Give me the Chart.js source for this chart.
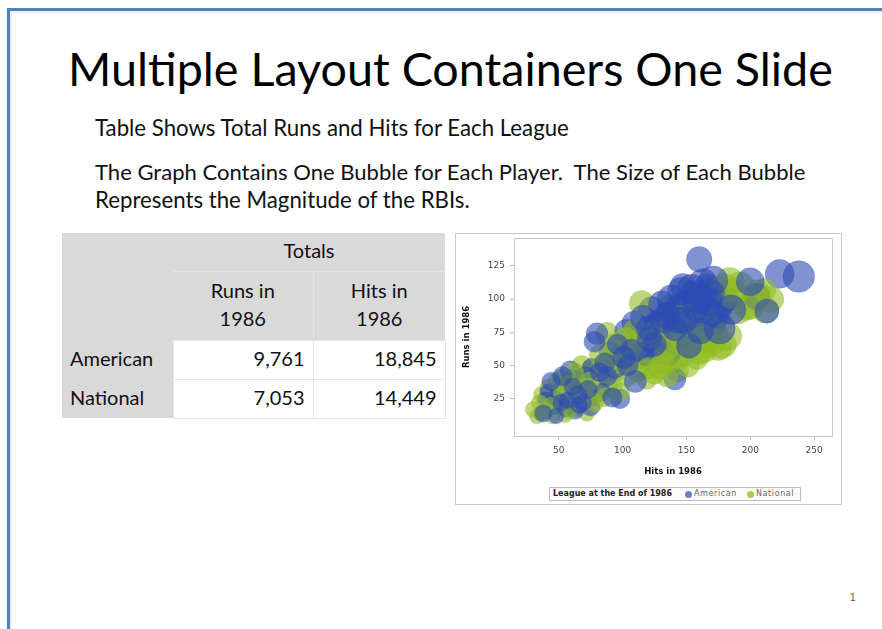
<!DOCTYPE html>
<html>
<head>
<meta charset="utf-8">
<script src="https://cdn.jsdelivr.net/npm/chart.js@4/dist/chart.umd.min.js"></script>
<style>
  html, body { margin: 0; padding: 0; background: #fff; }
  body { width: 882px; height: 629px; position: relative; overflow: hidden; font-family: Lato, "Open Sans", sans-serif; color: #111; }
  #topbar { position: absolute; left: 7px; top: 8px; right: 0; height: 3px; background: #4f81bd; }
  #leftbar { position: absolute; left: 7px; top: 8px; bottom: 0; width: 3px; background: #4f81bd; }
  #topshade { position: absolute; left: 10px; top: 11px; right: 0; height: 2px; background: #eceef1; }
  #leftshade { position: absolute; left: 10px; top: 11px; bottom: 0; width: 2px; background: #eceef1; }
  .fit { position: absolute; white-space: pre; line-height: 1; }
  #title { top: 45px; left: 68px; font-size: 44px; color: #000; }
  #l1 { top: 117px; left: 95px; font-size: 20px; }
  #l2 { top: 161px; left: 95px; font-size: 20px; }
  #l3 { top: 189px; left: 95px; font-size: 20px; }
  #tbl { position: absolute; left: 62px; top: 233px; border-collapse: collapse; font-size: 20px; }
  #tbl td { padding: 0 8px 4px 8px; box-sizing: border-box; line-height: 28px; }
  .g { background: #d9d9d9; }
  .w { background: #fff; border: 1px solid #e6e6e6; text-align: right; }
  #panel { position: absolute; left: 455px; top: 233px; width: 385px; height: 270px; border: 1px solid #c9c9c9; }
  #chartbox { position: absolute; left: 0; top: 0; width: 385px; height: 270px; }
  #legend { position: absolute; left: 93px; top: 253px; width: 250px; height: 12px; border: 1px solid #bdbdbd; background: #fbfbfb;
            font-family: "DejaVu Sans", sans-serif; font-size: 8px; line-height: 12px; color: #666; white-space: nowrap; }
  #legend b { color: #222; position: absolute; left: 3px; }
  #legend .dot { position: absolute; top: 3px; width: 7px; height: 7px; border-radius: 50%; }
  #legend .lab { position: absolute; letter-spacing: 0.6px; }
  #pnum { position: absolute; left: 850px; top: 592px; font-size: 10px; color: #555; font-family: "Liberation Sans", sans-serif; }
</style>
</head>
<body>
<div id="topbar"></div><div id="leftbar"></div><div id="topshade"></div><div id="leftshade"></div>
<div id="title" class="fit" data-w="765">Multiple Layout Containers One Slide</div>
<div id="l1" class="fit" data-w="474">Table Shows Total Runs and Hits for Each League</div>
<div id="l2" class="fit" data-w="711">The Graph Contains One Bubble for Each Player.  The Size of Each Bubble</div>
<div id="l3" class="fit" data-w="375">Represents the Magnitude of the RBIs.</div>

<table id="tbl">
  <tr style="height:38px">
    <td class="g" rowspan="2" style="width:111px"></td>
    <td class="g" colspan="2" style="text-align:center; border-bottom:1px solid #e4e4e4;">Totals</td>
  </tr>
  <tr style="height:69px">
    <td class="g" style="width:140px; text-align:center; border-right:1px solid #e4e4e4;">Runs in<br>1986</td>
    <td class="g" style="width:132px; text-align:center;">Hits in<br>1986</td>
  </tr>
  <tr style="height:39px">
    <td class="g" id="r0"></td><td class="w" id="r0c0"></td><td class="w" id="r0c1"></td>
  </tr>
  <tr style="height:39px">
    <td class="g" id="r1"></td><td class="w" id="r1c0"></td><td class="w" id="r1c1"></td>
  </tr>
</table>

<div id="panel">
  <div id="chartbox"><canvas id="c"></canvas></div>
  <div id="legend">
    <b>League at the End of 1986</b>
    <span class="dot" style="left:135px; background:rgba(70,95,185,0.8)"></span><span class="lab" style="left:144px">American</span>
    <span class="dot" style="left:197px; background:rgba(150,190,45,0.8)"></span><span class="lab" style="left:206px">National</span>
  </div>
</div>
<div id="pnum">1</div>

<script>
// ---- Table data ----
const leagues = ["American", "National"];
const totalRuns = [9761, 7053];
const totalHits = [18845, 14449];

// ---- Bubble data (Hits, Runs, RBI per player) ----
const americanHits = [38,40,44,46,48,50,53,55,57,59,61,63,65,67,69,71,73,75,
  78,80,82,84,86,90,92,94,96,98,101,103,107,109,110,112,116,118,120,
  123,125,127,131,133,135,136,138,141,141,143,146,147,148,151,152,154,155,157,159,160,161,163,165,166,168,170,171,175,176,179,200,205,213,223,238,
  42,52,60,66,76,88,95,104,113,121,128,132,139,144,150,158,162,167,172,185];
const americanRuns = [14,24,38,20,12,30,42,18,24,46,34,16,28,38,22,42,32,19,
  68,74,45,30,52,60,26,48,66,25,56,76,62,82,38,70,86,58,78,
  92,66,82,96,72,88,58,100,40,78,92,106,110,84,96,65,108,105,88,100,130,76,112,92,110,104,82,114,96,78,100,113,102,91,119,117,
  30,22,40,20,48,42,56,50,62,70,60,84,70,84,74,94,84,98,88,92];
const americanRBI = [22,18,30,25,10,28,34,20,15,40,22,18,30,26,20,36,28,30,
  45,50,33,25,40,48,35,44,42,37,55,60,46,65,52,58,72,50,64,
  80,62,70,85,60,76,58,90,52,70,95,88,70,80,100,72,92,60,84,105,74,78,96,88,66,102,90,98,106,110,94,90,80,65,96,113,
  20,18,32,14,38,36,50,45,56,66,58,74,72,78,84,90,86,92,100,100];

const nationalHits = [30,33,35,37,40,42,45,47,49,51,53,55,57,60,62,64,66,68,70,72,74,76,78,80,
  82,84,86,88,90,92,94,96,98,100,102,104,106,108,110,112,115,117,119,121,123,
  125,126,127,129,131,132,133,135,137,137,140,141,143,145,147,149,150,151,153,155,156,158,160,161,164,166,167,170,172,175,178,180,184,186,190,192,197,200,205,211,212,216,
  36,44,52,58,63,71,77,85,89,97,103,109,114,120,128,134,142,148,154,163,168,182];
const nationalRuns = [17,12,22,28,16,33,12,25,38,19,30,13,36,24,45,18,32,50,26,14,38,48,22,30,
  58,42,26,74,54,34,66,46,30,58,70,42,62,52,76,46,97,66,40,56,72,
  44,75,80,48,62,52,84,42,95,54,62,70,46,79,58,88,93,50,68,66,90,56,60,72,62,90,100,68,74,64,66,108,113,104,92,110,94,95,104,107,92,100,
  14,20,40,16,30,34,26,50,36,52,56,68,56,48,66,62,54,68,80,70,78,72];
const nationalRBI = [12,8,14,20,10,24,10,18,30,16,26,12,28,20,36,22,30,38,24,10,34,40,26,32,
  44,38,30,56,46,36,52,44,34,50,60,42,55,48,64,46,71,58,44,50,66,
  48,55,70,56,60,58,74,50,60,62,60,68,54,50,66,84,58,60,74,72,90,64,70,80,76,62,92,86,80,84,92,98,95,100,94,90,80,84,90,59,82,78,
  10,16,30,14,26,28,24,42,34,44,50,58,52,48,62,64,60,72,84,82,88,96];

// ---- Axis ticks ----
const xTicks = [50, 100, 150, 200, 250];
const yTicks = [25, 50, 75, 100, 125];

// fill table
leagues.forEach((lg, i) => {
  document.getElementById('r' + i).textContent = lg;
  document.getElementById('r' + i + 'c0').textContent = totalRuns[i].toLocaleString('en-US');
  document.getElementById('r' + i + 'c1').textContent = totalHits[i].toLocaleString('en-US');
});

// fit text widths
document.querySelectorAll('.fit').forEach(el => {
  const target = +el.dataset.w;
  const fs = parseFloat(getComputedStyle(el).fontSize);
  const w = el.getBoundingClientRect().width;
  el.style.fontSize = (fs * target / w) + 'px';
});

// do not let bubble radii inflate the plot padding
Chart.registry.getController('bubble').prototype.getMaxOverflow = function () { return 0; };

const radiusOf = rbi => 7 + rbi * 0.078;
const toPoints = (h, r, b, k) => h.map((v, i) => ({ x: v, y: r[i], r: radiusOf(b[i]), i }))
                                  .filter(p => p.i % 2 === k);

const BLUE = 'rgba(45,75,180,0.6)', BLUE_B = 'rgba(45,75,180,0.25)';
const GREEN = 'rgba(145,188,35,0.6)', GREEN_B = 'rgba(145,188,35,0.25)';

const datasets = [];
[0, 1].forEach(k => {
  datasets.push({ label: 'American', data: toPoints(americanHits, americanRuns, americanRBI, k),
    backgroundColor: BLUE, borderColor: BLUE_B, borderWidth: 1 });
  datasets.push({ label: 'National', data: toPoints(nationalHits, nationalRuns, nationalRBI, k),
    backgroundColor: GREEN, borderColor: GREEN_B, borderWidth: 1 });
});

const frame = {
  id: 'frame',
  afterDatasetsDraw(chart) {
    const a = chart.chartArea, ctx = chart.ctx;
    ctx.save();
    ctx.strokeStyle = '#c8c8c8';
    ctx.lineWidth = 1;
    ctx.strokeRect(Math.round(a.left) + 0.5, Math.round(a.top) + 0.5, Math.round(a.right - a.left), Math.round(a.bottom - a.top));
    ctx.restore();
  }
};

new Chart(document.getElementById('c'), {
  type: 'bubble',
  data: { datasets },
  options: {
    responsive: true, maintainAspectRatio: false, animation: false,
    layout: { padding: { top: 4, right: 9, left: 0, bottom: 22 } },
    plugins: { legend: { display: false }, tooltip: { enabled: false } },
    elements: { point: { hoverRadius: 0 } },
    scales: {
      x: {
        type: 'linear', min: 15, max: 264,
        afterBuildTicks: s => { s.ticks = xTicks.map(v => ({ value: v })); },
        afterFit: s => { s.height = 46; s.paddingLeft = 0; s.paddingRight = 0; },
        grid: { drawOnChartArea: false, tickLength: 4, color: '#bbb' },
        border: { color: '#c8c8c8' },
        ticks: { color: '#444', padding: 5, font: { family: 'DejaVu Sans', size: 9 }, maxRotation: 0 },
        title: { display: true, text: 'Hits in 1986', color: '#111', padding: { top: 2, bottom: 5 }, font: { family: 'DejaVu Sans', size: 8.5, weight: 'bold' } }
      },
      y: {
        type: 'linear', min: -3, max: 146,
        afterBuildTicks: s => { s.ticks = yTicks.map(v => ({ value: v })); },
        afterFit: s => { s.width = 58; s.paddingTop = 0; s.paddingBottom = 0; },
        grid: { drawOnChartArea: false, tickLength: 4, color: '#bbb' },
        border: { color: '#c8c8c8' },
        ticks: { color: '#444', padding: 5, font: { family: 'DejaVu Sans', size: 9 } },
        title: { display: true, text: 'Runs in 1986', color: '#111', padding: { top: 6, bottom: 2 }, font: { family: 'DejaVu Sans', size: 8.5, weight: 'bold' } }
      }
    }
  },
  plugins: [frame]
});
</script>
</body>
</html>
